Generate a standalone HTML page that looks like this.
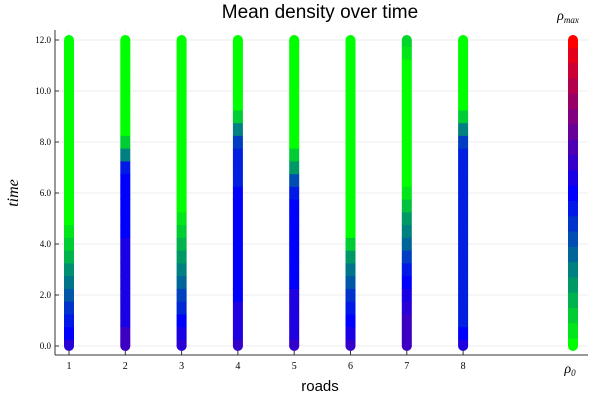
<!DOCTYPE html>
<html><head><meta charset="utf-8"><style>body{margin:0;background:#fff}svg{display:block}</style></head>
<body>
<svg id="chart" width="600" height="400" xmlns="http://www.w3.org/2000/svg">
<text x="320" y="18" text-anchor="middle" font-family="Liberation Sans, sans-serif" font-size="19">Mean density over time</text>
<g id="grid"></g>
<g id="marks"></g>
<g id="axes"></g>
<text x="320" y="391" text-anchor="middle" font-family="Liberation Sans, sans-serif" font-size="15">roads</text>
<text transform="translate(18,193) rotate(-90)" text-anchor="middle" font-family="Liberation Serif, serif" font-style="italic" font-size="16">time</text>
<text x="568" y="20" text-anchor="middle" font-family="Liberation Serif, serif" font-style="italic" font-size="14">ρ<tspan font-size="9" dy="3">max</tspan></text>
<text x="570" y="373" text-anchor="middle" font-family="Liberation Serif, serif" font-style="italic" font-size="14">ρ<tspan font-size="9" dy="3">0</tspan></text>
</svg>
<script>
const times = [0,0.5,1,1.5,2,2.5,3,3.5,4,4.5,5,5.5,6,6.5,7,7.5,8,8.5,9,9.5,10,10.5,11,11.5,12];
const roads = [1,2,3,4,5,6,7,8];
const road1 = [0.58,0.5,0.45,0.4,0.33,0.27,0.22,0.15,0.1,0.05,0,0,0,0,0,0,0,0,0,0,0,0,0,0,0];
const road2 = [0.62,0.62,0.55,0.55,0.55,0.55,0.55,0.55,0.55,0.5,0.5,0.5,0.5,0.5,0.45,0.25,0.1,0,0,0,0,0,0,0,0];
const road3 = [0.58,0.55,0.5,0.42,0.37,0.3,0.25,0.2,0.15,0.1,0.05,0,0,0,0,0,0,0,0,0,0,0,0,0,0];
const road4 = [0.6,0.56,0.56,0.56,0.5,0.5,0.5,0.5,0.5,0.5,0.5,0.5,0.5,0.44,0.44,0.44,0.38,0.25,0.1,0,0,0,0,0,0];
const road5 = [0.6,0.56,0.56,0.56,0.56,0.5,0.5,0.5,0.5,0.5,0.5,0.5,0.45,0.35,0.2,0.1,0,0,0,0,0,0,0,0,0];
const road6 = [0.6,0.55,0.5,0.45,0.4,0.33,0.27,0.2,0.1,0,0,0,0,0,0,0,0,0,0,0,0,0,0,0,0];
const road7 = [0.62,0.62,0.62,0.58,0.55,0.5,0.45,0.38,0.3,0.25,0.2,0.12,0.05,0,0,0,0,0,0,0,0,0,0,0.05,0.08];
const road8 = [0.56,0.5,0.44,0.44,0.44,0.44,0.44,0.44,0.44,0.44,0.44,0.44,0.44,0.44,0.44,0.44,0.38,0.25,0.1,0,0,0,0,0,0];
const series = [road1,road2,road3,road4,road5,road6,road7,road8];
const legendValues = [0,0.05,0.1,0.15,0.2,0.25,0.3,0.35,0.4,0.45,0.5,0.55,0.6,0.65,0.7,0.75,0.8,0.85,0.9,0.95,1];
const yTicks = [0,2,4,6,8,10,12];
const yTickLabels = ["0.0","2.0","4.0","6.0","8.0","10.0","12.0"];

const NS="http://www.w3.org/2000/svg";
const xScale = r => 69 + (r-1)*56.3;
const legendX = 573;
const yScale = t => 346 - t*25.5;
function color(v){
  let r,g,b;
  if(v<=0.5){const k=v/0.5;r=0;g=255*(1-k);b=255*k;}
  else{const k=(v-0.5)/0.5;r=255*k;g=0;b=255*(1-k);}
  return `rgb(${Math.round(r)},${Math.round(g)},${Math.round(b)})`;
}
function mk(tag,attrs,parent){const e=document.createElementNS(NS,tag);for(const k in attrs)e.setAttribute(k,attrs[k]);parent.appendChild(e);return e;}
const grid=document.getElementById('grid'),marks=document.getElementById('marks'),axes=document.getElementById('axes');
yTicks.forEach((t,i)=>{
  const l=mk('line',{x1:55,x2:588,y1:yScale(t),y2:yScale(t),stroke:'#ececec','stroke-width':1},grid);
  
  
  const tk=mk('line',{x1:55,x2:59,y1:yScale(t),y2:yScale(t),stroke:'#333'},axes);
  
  
  const tx=mk('text',{x:51,y:yScale(t)+3,'text-anchor':'end','font-family':'Liberation Serif, serif','font-size':9},axes);
  tx.textContent=yTickLabels[i];
  
  
});
roads.forEach(r=>{
  const l=mk('line',{x1:xScale(r),x2:xScale(r),y1:30,y2:355,stroke:'#f2f2f2','stroke-width':1},grid);
  
  
  const tk=mk('line',{x1:xScale(r),x2:xScale(r),y1:355,y2:351,stroke:'#333'},axes);
  
  
  const tx=mk('text',{x:xScale(r),y:369,'text-anchor':'middle','font-family':'Liberation Serif, serif','font-size':10},axes);
  tx.textContent=String(r);
  
  
});
function drawColumn(x,vals,ts,name){
  const g=mk('g',{},marks);
  
  
  const n=vals.length;
  const c0=mk('circle',{cx:x,cy:yScale(ts[0]),r:5,fill:color(vals[0])},g);
  
  
  const c1=mk('circle',{cx:x,cy:yScale(ts[n-1]),r:5,fill:color(vals[n-1])},g);
  
  
  for(let i=0;i<n;i++){
    const y=yScale(ts[i]);
    const ya=i>0?(y+yScale(ts[i-1]))/2:y;
    const yb=i<n-1?(y+yScale(ts[i+1]))/2:y;
    const seg=mk('rect',{x:x-5,y:Math.min(ya,yb)-0.3,width:10,height:Math.abs(ya-yb)+0.6,fill:color(vals[i])},g);
    
    
  }
}
series.forEach((s,i)=>drawColumn(xScale(roads[i]),s,times,'road-'+roads[i]+'-column'));
const legendTimes=legendValues.map(v=>v*12);
drawColumn(legendX,legendValues,legendTimes,'colorbar-legend');
const ya=mk('line',{x1:55,x2:55,y1:30,y2:355,stroke:'#333'},axes);


const xa=mk('line',{x1:55,x2:588,y1:355,y2:355,stroke:'#333'},axes);


</script>
</body></html>
